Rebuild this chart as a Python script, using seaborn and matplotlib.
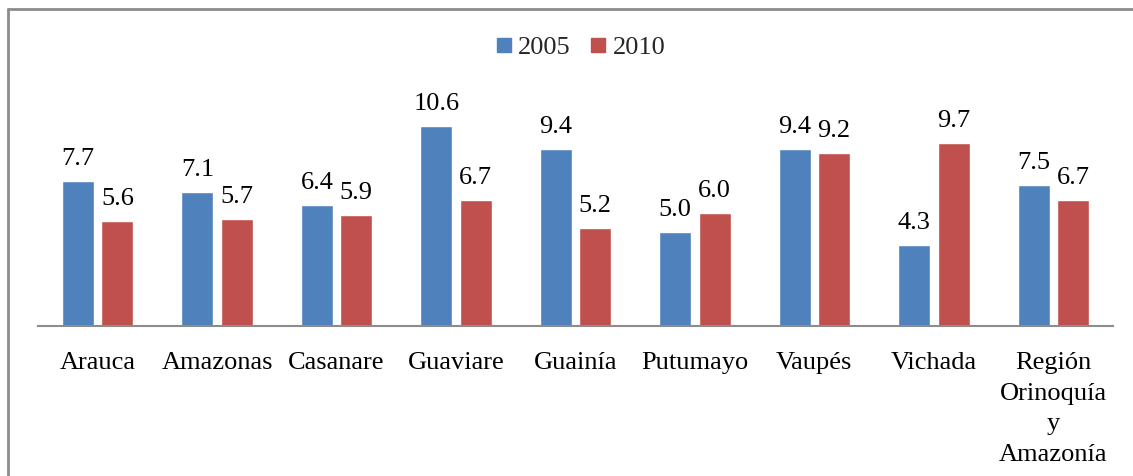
import pandas as pd
import matplotlib
matplotlib.use("Agg")
import matplotlib.pyplot as plt
import seaborn as sns
from matplotlib.lines import Line2D

# Datos
departamentos = ["Arauca", "Amazonas", "Casanare", "Guaviare", "Guainía",
                 "Putumayo", "Vaupés", "Vichada", "Región\nOrinoquía\ny\nAmazonía"]
valores_2005 = [7.7, 7.1, 6.4, 10.6, 9.4, 5.0, 9.4, 4.3, 7.5]
valores_2010 = [5.6, 5.7, 5.9, 6.7, 5.2, 6.0, 9.2, 9.7, 6.7]
anios = ["2005", "2010"]
colores = ["#4F81BD", "#C0504D"]

df = pd.DataFrame({
    "Departamento": departamentos * 2,
    "Año": [anios[0]] * len(departamentos) + [anios[1]] * len(departamentos),
    "Valor": valores_2005 + valores_2010,
})

sns.set_theme(style="white")
plt.rcParams['font.family'] = ['Liberation Serif', 'DejaVu Serif']

fig = plt.figure(figsize=(11.33, 4.76), dpi=100)
ax = fig.add_axes([38 / 1133, 150 / 476, 1075 / 1133, 226 / 476])

sns.barplot(data=df, x="Departamento", y="Valor", hue="Año", palette=colores,
            width=0.66, gap=0.19, ax=ax, legend=False, saturation=1)

# Etiquetas de valor
for cont in ax.containers:
    for barra in cont:
        h = barra.get_height()
        ax.annotate(f"{h:.1f}", (barra.get_x() + barra.get_width() / 2, h),
                    xytext=(0, 16), textcoords="offset pixels",
                    ha="center", va="baseline", fontsize=19, color="black")

ax.set_ylim(0, 12)
ax.set_xlim(-0.5, len(departamentos) - 0.5)
ax.set_xlabel("")
ax.set_ylabel("")
ax.set_yticks([])
for lado in ["top", "right", "left"]:
    ax.spines[lado].set_visible(False)
ax.spines["bottom"].set_color("#8c8c8c")
ax.spines["bottom"].set_linewidth(1.5)
ax.tick_params(axis="x", length=0, pad=19, labelsize=19, colors="black")
for etiqueta in ax.get_xticklabels():
    etiqueta.set_linespacing(1.5)

# Leyenda
handles = [Line2D([], [], marker="s", linestyle="", markersize=10,
                  markerfacecolor=c, markeredgecolor=c) for c in colores]
fig.legend(handles, anios, loc="center", bbox_to_anchor=(580 / 1133, 1 - 47 / 476),
           ncol=2, frameon=False, fontsize=19, handlelength=0.7,
           handletextpad=0.2, columnspacing=0.7)

# Marco
fig.add_artist(Line2D([8 / 1133, 8 / 1133], [0, 1 - 9 / 476], transform=fig.transFigure,
                      color="#8c8c8c", linewidth=2))
fig.add_artist(Line2D([8 / 1133, 1], [1 - 9 / 476, 1 - 9 / 476], transform=fig.transFigure,
                      color="#8c8c8c", linewidth=2))

fig.savefig("out.png", dpi=100)
